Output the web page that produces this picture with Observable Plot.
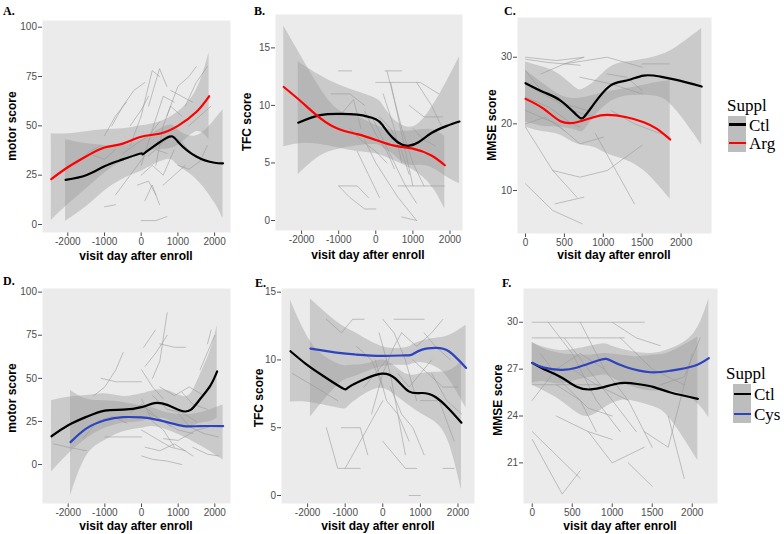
<!DOCTYPE html>
<html><head><meta charset="utf-8">
<script src="https://cdn.jsdelivr.net/npm/d3@7"></script>
<script src="https://cdn.jsdelivr.net/npm/@observablehq/plot@0.6"></script>
<style>
body{margin:0;background:#fff;overflow:hidden}
#fig{position:relative;width:784px;height:534px;overflow:hidden;background:#fff;font-family:"Liberation Sans",Arial,sans-serif}
#fig svg{position:absolute;left:0;top:0}
.t{position:absolute;white-space:nowrap;line-height:1}
.ax{font-weight:bold;font-size:12px;color:#000}
.ayt{transform:translate(-50%,-50%) rotate(-90deg)}
.axt{transform:translate(-50%,-50%)}
.lt{font-family:"Liberation Serif","Times New Roman",serif;font-weight:bold;font-size:12px;color:#000}
.lg{font-family:"Liberation Serif","Times New Roman",serif;font-size:17px;color:#000;transform:translateY(-50%)}
.key{position:absolute;background:#bdbdbd}
.kl{position:absolute;height:2.4px}
</style></head><body><div id="fig"></div>
<script>
// ---------- tick labels ----------
const xTicksWide = [-2000, -1000, 0, 1000, 2000];
const xTicksMMSE = [0, 500, 1000, 1500, 2000];
const yTicksMotor = [0, 25, 50, 75, 100];
const yTicksTFC = [0, 5, 10, 15];
const yTicksMMSE1 = [10, 20, 30];
const yTicksMMSE2 = [21, 24, 27, 30];

// ---------- smoothed curves (x, fit, lower, upper) ----------
const ctlA = {color:"#000000", x:[-2060,-1500,-1000,-500,0,100,700,1000,1500,2000,2230], y:[22.6,25,29.5,33,36,36.3,44,42,34.5,31.3,31], lo:[1.7,9,17,23,27,28,33,30,23,11,3], hi:[43,41,40,40,43,44,50,48,45,53,58]};
const argA = {color:"#ff0000", x:[-2450,-2000,-1500,-1000,-500,0,500,1000,1500,1850], y:[23,29,34.5,39,41,44.5,46,50,57,65], lo:[2,10,18,26,32,36,38,40,47,43], hi:[46,46,47,48,48.5,50,52,57,68,87]};

const ctlB = {color:"#000000", x:[-2090,-1500,-1000,-500,0,200,450,700,900,1150,1500,1900,2255], y:[8.5,9.15,9.27,9.2,8.8,8.2,7.2,6.6,6.5,6.8,7.6,8.2,8.6], lo:[4.0,5.6,6.2,6.5,6.6,6.3,5.8,5.1,4.8,4.8,4.6,3.8,3.2], hi:[13.8,12.6,11.8,11.2,10.6,10.0,8.9,8.3,8.1,8.4,9.8,12.0,14.2]};
const argB = {color:"#ff0000", x:[-2480,-2000,-1500,-1000,-500,0,500,1000,1500,1860], y:[11.6,10.3,8.9,7.95,7.5,7.0,6.5,6.25,5.65,4.8], lo:[6.4,6.7,6.6,6.3,6.0,5.8,5.2,4.4,3.0,1.0], hi:[16.9,14.2,11.5,9.6,9.0,8.3,7.8,7.8,7.9,7.3]};

const ctlC = {color:"#000000", x:[0,235,450,660,750,880,1090,1300,1520,1730,1940,2265], y:[26.1,24.75,23.5,21.3,21,23,25.75,26.5,27.25,27.1,26.6,25.6], lo:[20.3,19.6,19.5,19,19,21,23.3,24.2,24.3,24,22,16.8], hi:[29.3,28.5,27.3,25.3,25.3,26.3,28.5,29.3,29.7,30.3,31.5,34.3]};
const argC = {color:"#ff0000", x:[0,235,450,660,875,1050,1300,1520,1690,1860], y:[23.75,22.25,20.4,20.25,21,21.35,21,20.25,19.25,17.65], lo:[19.5,18.8,18.3,17,16.5,15.5,14.5,13,11,8.7], hi:[28,26,24.3,23.8,24.3,24.8,25.3,25.8,26.2,26.5]};

const ctlD = {color:"#000000", x:[-2455,-2000,-1500,-1000,-500,0,350,700,1060,1340,1600,1880,2064], y:[16.4,22.8,27.7,31.3,31.8,33.3,35.6,34.6,31.3,31.7,38,45.8,54], lo:[-4.4,6,15,21,24,25,27,26,23,22,24,25,27], hi:[37,39,40,41,39.5,41,43,43,40,41,52,66,80.7]};
const cysD = {color:"#2e44be", x:[-1936,-1500,-1000,-500,0,300,700,1150,1600,2227], y:[13,21,25.7,27.5,27.3,26.5,24.6,22.3,22.3,22.3], lo:[-18,5,14,19,21,22,20,16,11,2.7], hi:[43,38,37,36,34,33,30,29,30,34.6]};

const ctlE = {color:"#000000", x:[-2456,-2057,-1613,-1082,-904,-461,-18,337,691,1046,1401,1755,2092], y:[10.64,9.73,8.87,7.93,8.0,8.62,8.99,8.62,7.68,7.56,7.27,6.4,5.37], lo:[6.9,6.9,6.7,6.4,6.6,7.5,7.9,7.4,6.65,6.0,5.4,3.9,0.4], hi:[14.4,12.0,10.4,9.6,9.6,9.7,10.0,9.5,8.9,9.0,9.1,9.2,9.85]};
const cysE = {color:"#2e44be", x:[-1924,-1170,-727,-18,603,780,1046,1401,1755,2216], y:[10.84,10.52,10.4,10.3,10.34,10.4,10.76,10.89,10.64,9.41], lo:[5.8,8.2,8.8,9.5,9.6,9.7,9.8,9.5,8.6,6.45], hi:[14.5,12.7,12.0,11.0,10.9,11.1,11.4,11.6,11.8,12.56]};

const ctlF = {color:"#000000", x:[0,146,354,563,730,896,1104,1313,1521,1729,2070], y:[27.4,27.0,26.5,25.85,25.7,25.85,26.1,26.05,25.85,25.5,25.1], lo:[26.0,25.6,25.0,24.2,24.0,24.5,25.0,24.9,24.6,23.8,21.15], hi:[28.7,28.3,28.0,27.9,27.9,28.0,27.9,27.8,27.9,28.1,29.05]};
const cysF = {color:"#2e44be", x:[0,146,354,563,854,979,1188,1479,1729,2021,2208], y:[27.4,27.1,26.95,27.1,27.6,27.55,27.1,26.8,26.9,27.2,27.7], lo:[26.1,26.2,26.05,26.3,26.6,26.5,26.0,25.6,25.6,25.0,23.9], hi:[28.7,28.4,28.2,28.3,28.6,28.5,28.2,28.0,28.3,29.3,31.5]};

// ---------- individual trajectories ----------
const spagA = [
 [[-1000,45],[-700,55],[-400,62]], [[-800,50],[-500,60],[-200,68],[100,72]],
 [[-300,40],[0,55],[300,78],[500,75]], [[200,60],[500,79],[700,70]],
 [[400,30],[600,50],[800,60],[1100,55]], [[0,30],[300,48],[600,65],[900,62]],
 [[700,55],[1000,70],[1300,75],[1500,80]], [[1200,60],[1500,72],[1800,80]],
 [[-500,36],[-200,40],[200,45],[500,52]], [[-1800,30],[-1400,37],[-1100,40]],
 [[-700,15],[-300,25],[100,35]], [[0,25],[300,30],[600,25],[900,38]],
 [[100,12],[300,20],[500,10]], [[-100,20],[200,22],[400,15]],
 [[0,2],[400,2],[700,4]], [[-1000,9],[-700,10]],
 [[500,40],[800,45],[1100,42],[1400,35]], [[1000,30],[1300,28],[1600,32],[1800,40]],
 [[1300,50],[1600,55],[1900,60]], [[-300,50],[0,58],[200,65]],
 [[600,20],[900,25],[1200,30]], [[-1300,35],[-1000,33],[-700,38]],
 [[200,35],[400,38],[700,36]], [[800,68],[1100,65],[1400,62]]
];
const spagB = [
 [[-1000,13],[-650,13]], [[250,13],[700,13]], [[0,12],[800,12],[1200,12],[1700,11]],
 [[-1200,11],[-700,11],[-300,10]], [[-1000,9],[-600,10.5],[-400,8]],
 [[300,13],[500,10.5],[700,8],[1000,5],[1300,3]], [[400,12],[600,9],[800,6],[1000,3]],
 [[-300,7],[0,5],[300,3.5],[600,2],[1100,0]], [[-100,9],[200,7],[500,5],[800,3],[1100,1.5]],
 [[-1000,3],[-700,2],[-300,1],[0,1]], [[-1000,3],[-500,3],[-200,2]],
 [[700,0.3],[1100,0]], [[1500,3],[1850,3]], [[600,3],[1500,3]],
 [[900,10],[1300,9],[1800,9]], [[1100,12],[1500,10],[1800,8]],
 [[-700,8],[-400,7],[0,6],[300,5]], [[100,9],[400,8],[700,6],[900,4]],
 [[200,11],[500,8],[700,5]], [[-500,6],[-200,4],[100,2]],
 [[1000,8],[1300,7],[1600,6.5]], [[-300,9.5],[0,7.5],[300,6],[500,4.5]]
];
const spagC = [
 [[0,30],[400,29.5],[750,30]], [[0,29.7],[300,29.2],[700,28.8]], [[200,27.5],[500,29],[750,30]],
 [[500,29],[1050,30],[1500,28.5]], [[1050,27.5],[1300,27],[1500,25]], [[1500,29],[1850,29]],
 [[0,19.5],[350,13],[660,9]], [[0,11],[350,7],[730,5]], [[380,8],[750,9]],
 [[350,13],[700,12],[1050,13],[1500,16.8]], [[0,22],[400,20],[700,17],[1000,18]],
 [[900,18.5],[1400,8]], [[0,26],[300,24],[600,22],[900,21]], [[0,28],[200,25],[500,23],[800,22]],
 [[700,27],[1100,26],[1500,24.5]], [[0,24],[300,22.5],[600,20],[700,19.5]],
 [[1100,22],[1400,20],[1860,18]], [[0,20],[250,21],[500,19]]
];
const spagD = [
 [[60,68],[380,78]], [[100,57],[400,65],[700,75]], [[700,88],[500,60],[300,50]],
 [[0,55],[300,45],[600,38]], [[500,70],[900,68],[1200,68]], [[-1100,50],[-700,48],[-300,48],[0,48]],
 [[-1300,40],[-1000,45],[-700,55],[-500,65]], [[1800,70],[1900,78]], [[1600,55],[1800,65],[2000,75]],
 [[-2400,12],[-2000,10],[-1500,8]], [[-1600,15],[-1200,25],[-800,28],[-400,24]],
 [[-1000,16],[-500,16],[0,16]], [[0,20],[400,15],[800,10],[1200,8]], [[0,5],[300,3],[700,2],[1100,0]],
 [[100,10],[500,8],[900,12],[1400,5]], [[200,30],[600,25],[1000,20],[1400,18]],
 [[300,40],[700,32],[1100,30],[1500,25]], [[1000,30],[1300,22],[1700,18],[2100,16]],
 [[500,45],[900,40],[1300,45],[1700,40]], [[-300,30],[0,35],[400,28],[800,22]],
 [[1400,10],[1800,6],[2100,5]], [[600,15],[1000,14],[1500,20],[1900,22]],
 [[0,38],[300,25],[600,20],[900,10]], [[1100,42],[1400,35],[1800,32]]
];
const spagE = [
 [[-2400,9],[-1800,8],[-1200,7]], [[-1500,13],[-1100,12],[-800,13],[-500,13]],
 [[-1500,5],[-1200,2],[-600,2]], [[-1100,5],[-600,5],[-400,3]], [[-1000,2],[-400,5],[0,7]],
 [[-700,11],[-300,10],[0,8]], [[0,13],[300,12],[600,10],[900,7]], [[-100,12],[200,9],[400,6],[600,3]],
 [[0,4],[300,3],[600,2],[900,2]], [[300,13],[700,13],[1100,13]], [[500,12],[900,11],[1300,12],[1600,13]],
 [[800,10],[1200,9],[1600,8],[2000,8]], [[1000,7],[1500,7],[1900,4]], [[1300,9],[1700,7],[2100,6]],
 [[1600,2],[1900,2]], [[700,0],[1000,0]], [[-200,10],[100,7],[400,6],[700,4]],
 [[200,8],[500,6],[800,5],[1100,3]], [[-300,6],[0,9],[300,11],[500,12]],
 [[1100,12],[1400,11],[1800,10]], [[-500,8],[-200,9],[100,10]], [[400,9],[700,8],[1000,9],[1300,10]]
];
const spagF = [
 [[0,30],[1400,30]], [[0,29],[1150,29]], [[0,26],[850,26]], [[0,25],[300,27],[600,28],[900,27]],
 [[0,23],[600,20]], [[0,22.5],[375,19],[600,20.5]], [[400,29],[700,27],[1000,25],[1300,23]],
 [[200,30],[500,28],[800,25],[1100,23]], [[600,30],[900,27],[1200,25],[1500,22]],
 [[1000,30],[1300,29],[1600,28.5]], [[1100,29],[1500,27],[1900,26]], [[300,24],[700,23],[1000,22.5]],
 [[700,23],[1000,21],[1400,22]], [[1200,21],[1500,19.5]], [[1700,24],[1900,20]],
 [[1400,23],[1700,22],[2000,28]], [[100,28],[400,26],[700,24.5],[1000,24]],
 [[500,27],[800,26],[1200,25]], [[1600,26],[1900,26.5],[2100,29]], [[300,26],[600,25],[800,23]]
];

// ---------- layout ----------
const panels = [
 {frame:[42,230,20,232], xdom:[-2689,2433], ydom:[-4.05,103.4], xt:xTicksWide, yt:yTicksMotor, spag:spagA, series:[ctlA,argA]},
 {frame:[275,462,14,230], xdom:[-2703,2337], ydom:[-0.87,17.9], xt:xTicksWide, yt:yTicksTFC, spag:spagB, series:[ctlB,argB]},
 {frame:[517,711,17,233], xdom:[-103,2391], ydom:[3.55,35.96], xt:xTicksMMSE, yt:yTicksMMSE1, spag:spagC, series:[ctlC,argC]},
 {frame:[42,230,288,503], xdom:[-2701,2428], ydom:[-22.6,102.1], xt:xTicksWide, yt:yTicksMotor, spag:spagD, series:[ctlD,cysD]},
 {frame:[281,474,288,503], xdom:[-2694,2439], ydom:[-0.59,15.27], xt:xTicksWide, yt:yTicksTFC, spag:spagE, series:[ctlE,cysE]},
 {frame:[523,717,288,503], xdom:[-109,2316], ydom:[18.4,32.16], xt:xTicksMMSE, yt:yTicksMMSE2, spag:spagF, series:[ctlF,cysF]}
];

const fig = document.getElementById("fig");
const spagRows = lines => lines.flatMap((l, i) => l.map(([x, y]) => ({x, y, id: i})));
const seriesRows = s => s.x.map((x, i) => ({x, y: s.y[i], lo: s.lo[i], hi: s.hi[i]}));

for (const p of panels) {
  const [x0, x1, y0, y1] = p.frame;
  const marks = [
    Plot.frame({fill: "#EBEBEB", stroke: "none"}),
    Plot.line(spagRows(p.spag), {x: "x", y: "y", z: "id", stroke: "#9c9c9c", strokeWidth: 0.6, clip: true})
  ];
  for (const s of p.series) marks.push(Plot.areaY(seriesRows(s), {x: "x", y1: "lo", y2: "hi", fill: "#999999", fillOpacity: 0.4, curve: "natural", clip: true}));
  for (const s of p.series) marks.push(Plot.line(seriesRows(s), {x: "x", y: "y", stroke: s.color, strokeWidth: 2.2, curve: "natural", clip: true}));
  const svg = Plot.plot({
    width: 784, height: 534,
    marginLeft: x0, marginRight: 784 - x1, marginTop: y0, marginBottom: 534 - y1,
    x: {domain: p.xdom, ticks: p.xt, tickSize: 4, tickPadding: 1, tickFormat: d => String(d), label: null},
    y: {domain: p.ydom, ticks: p.yt, tickSize: 4, tickPadding: 1.5, tickFormat: d => String(d), label: null},
    style: {background: "transparent", fontSize: "10px", fontFamily: "Liberation Sans, Arial, sans-serif", color: "#4d4d4d", overflow: "visible"},
    marks
  });
  fig.append(svg);
}

// ---------- text ----------
function txt(cls, s, left, top) {
  const d = document.createElement("div");
  d.className = "t " + cls; d.textContent = s;
  d.style.left = left + "px"; d.style.top = top + "px";
  fig.append(d); return d;
}
const letters = [["A.",3,5],["B.",254,5],["C.",504,5],["D.",3,275],["E.",255,277],["F.",502,277]];
for (const [s,l,t] of letters) txt("lt", s, l, t);

const yTitles = [["motor score",12,126],["TFC score",247,122],["MMSE score",492,125],["motor score",12,398],["TFC score",259,398],["MMSE score",498,400]];
for (const [s,l,t] of yTitles) txt("ax ayt", s, l, t);
const xTitles = [[136,256],[368,255],[614,255],[136,526],[378,526],[620,526]];
for (const [l,t] of xTitles) txt("ax axt", "visit day after enroll", l, t);

// legends
function legend(x, yTitle, keyTop, keyH, rows, labels, colors, keyX) {
  txt("lg", "Suppl", x, yTitle);
  const k = document.createElement("div"); k.className = "key";
  k.style.left = keyX + "px"; k.style.top = keyTop + "px"; k.style.width = "18px"; k.style.height = keyH + "px";
  fig.append(k);
  rows.forEach((ry, i) => {
    const ln = document.createElement("div"); ln.className = "kl";
    ln.style.left = (keyX + 1) + "px"; ln.style.top = (ry - 1.2) + "px"; ln.style.width = "17px"; ln.style.background = colors[i];
    fig.append(ln);
    txt("lg", labels[i], keyX + 21, ry);
  });
}
legend(727, 105, 116, 36, [124.5, 143], ["Ctl","Arg"], ["#000","#ff0000"], 728);
legend(726, 373, 384, 39, [394, 414], ["Ctl","Cys"], ["#000","#2e44be"], 733);
</script></body></html>
